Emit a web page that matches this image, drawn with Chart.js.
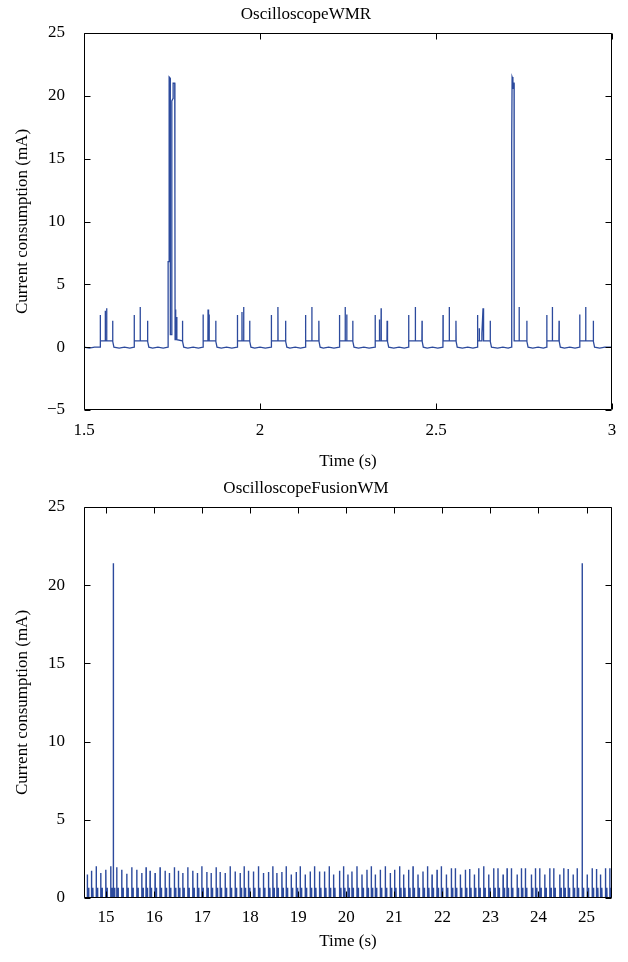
<!DOCTYPE html>
<html>
<head>
<meta charset="utf-8">
<script src="https://cdn.jsdelivr.net/npm/chart.js@4.4.1/dist/chart.umd.min.js"></script>
<style>
  html, body { margin: 0; padding: 0; background: #fff; }
  .panel { position: absolute; left: 0; width: 628px; }
  #wmrPanel { top: 0; height: 480px; }
  #fusionPanel { top: 475px; height: 487px; }
</style>
</head>
<body>
<div class="panel" id="wmrPanel"><canvas id="wmrChart" width="628" height="480"></canvas></div>
<div class="panel" id="fusionPanel"><canvas id="fusionChart" width="628" height="487"></canvas></div>
<script>
// OscilloscopeWMR: current trace, one cycle per line
const wmrTime = [
    1.5000, 1.5150, 1.5300,
    1.5460, 1.5462, 1.5467, 1.5600, 1.5604, 1.5608, 1.5640, 1.5644, 1.5648, 1.5810, 1.5814, 1.5819, 1.5850,
    1.6000, 1.6150, 1.6300,
    1.6424, 1.6426, 1.6431, 1.6592, 1.6596, 1.6600, 1.6802, 1.6806, 1.6811, 1.6842,
    1.6950, 1.7100, 1.7250,
    1.7388, 1.7390, 1.7417, 1.7419, 1.7450, 1.7453, 1.7493, 1.7495, 1.7530, 1.7532, 1.7578, 1.7580, 1.7585, 1.7588, 1.7601, 1.7605, 1.7609, 1.7632, 1.7636, 1.7640, 1.7794, 1.7798, 1.7803, 1.7834,
    1.7950, 1.8100, 1.8250,
    1.8381, 1.8383, 1.8388, 1.8520, 1.8524, 1.8528, 1.8549, 1.8553, 1.8557, 1.8739, 1.8743, 1.8748, 1.8779,
    1.8900, 1.9050, 1.9200,
    1.9356, 1.9358, 1.9363, 1.9484, 1.9488, 1.9492, 1.9532, 1.9536, 1.9540, 1.9703, 1.9707, 1.9712, 1.9743,
    1.9850, 2.0000, 2.0150,
    2.0320, 2.0322, 2.0327, 2.0505, 2.0509, 2.0513, 2.0723, 2.0727, 2.0732, 2.0763,
    2.0850, 2.1000, 2.1150,
    2.1292, 2.1294, 2.1299, 2.1469, 2.1473, 2.1477, 2.1668, 2.1672, 2.1677, 2.1708,
    2.1800, 2.1950, 2.2100,
    2.2256, 2.2258, 2.2263, 2.2416, 2.2420, 2.2424, 2.2461, 2.2465, 2.2469, 2.2631, 2.2635, 2.2640, 2.2671,
    2.2800, 2.2950, 2.3100,
    2.3269, 2.3271, 2.3276, 2.3389, 2.3393, 2.3397, 2.3437, 2.3441, 2.3445, 2.3607, 2.3611, 2.3620, 2.3625, 2.3656,
    2.3800, 2.3950, 2.4100,
    2.4221, 2.4223, 2.4228, 2.4409, 2.4413, 2.4417, 2.4599, 2.4603, 2.4608, 2.4639,
    2.4750, 2.4900, 2.5050,
    2.5197, 2.5199, 2.5204, 2.5373, 2.5377, 2.5381, 2.5563, 2.5567, 2.5572, 2.5603,
    2.5750, 2.5900, 2.6050,
    2.6178, 2.6180, 2.6185, 2.6225, 2.6229, 2.6233, 2.6300, 2.6304, 2.6336, 2.6340, 2.6351, 2.6355, 2.6359, 2.6536, 2.6540, 2.6545, 2.6576,
    2.6750, 2.6900, 2.7050,
    2.7140, 2.7143, 2.7159, 2.7162, 2.7185, 2.7188, 2.7205, 2.7208, 2.7218, 2.7221, 2.7358, 2.7362, 2.7366, 2.7576, 2.7580, 2.7585, 2.7616,
    2.7750, 2.7900, 2.8050,
    2.8145, 2.8147, 2.8152, 2.8302, 2.8306, 2.8310, 2.8492, 2.8496, 2.8501, 2.8532,
    2.8650, 2.8800, 2.8950,
    2.9081, 2.9083, 2.9088, 2.9249, 2.9253, 2.9257, 2.9465, 2.9469, 2.9474, 2.9505,
    2.9650, 2.9800, 3.0000
];
const wmrCurrent = [
    0.0, -0.08, 0.0,
    0.0, 2.55, 0.5, 0.5, 2.9, 0.5, 0.5, 3.1, 0.5, 0.5, 2.1, 0.45, 0.0,
    -0.08, 0.0, -0.08,
    0.0, 2.55, 0.5, 0.5, 3.2, 0.5, 0.5, 2.1, 0.45, 0.0,
    -0.08, 0.0, -0.08,
    0.0, 6.8, 6.8, 21.5, 21.4, 1.0, 1.0, 19.6, 19.8, 21.0, 21.0, 12.3, 12.2, 0.6, 0.6, 3.0, 0.6, 0.6, 2.4, 0.6, 0.5, 2.1, 0.45, 0.0,
    -0.08, 0.0, -0.08,
    0.0, 2.6, 0.5, 0.5, 3.0, 0.5, 0.5, 2.6, 0.5, 0.5, 2.1, 0.45, 0.0,
    -0.08, 0.0, -0.08,
    0.0, 2.55, 0.5, 0.5, 2.8, 0.5, 0.5, 3.2, 0.5, 0.5, 2.1, 0.45, 0.0,
    -0.08, 0.0, -0.08,
    0.0, 2.55, 0.5, 0.5, 3.2, 0.5, 0.5, 2.1, 0.45, 0.0,
    -0.08, 0.0, -0.08,
    0.0, 2.55, 0.5, 0.5, 3.2, 0.5, 0.5, 2.1, 0.45, 0.0,
    -0.08, 0.0, -0.08,
    0.0, 2.55, 0.5, 0.5, 3.2, 0.5, 0.5, 2.6, 0.5, 0.5, 2.1, 0.45, 0.0,
    -0.08, 0.0, -0.08,
    0.0, 2.55, 0.5, 0.5, 2.2, 0.5, 0.5, 3.1, 0.5, 0.5, 2.1, 1.2, 0.45, 0.0,
    -0.08, 0.0, -0.08,
    0.0, 2.55, 0.5, 0.5, 3.2, 0.5, 0.5, 2.1, 0.45, 0.0,
    -0.08, 0.0, -0.08,
    0.0, 2.55, 0.5, 0.5, 3.2, 0.5, 0.5, 2.1, 0.45, 0.0,
    -0.08, 0.0, -0.08,
    0.0, 2.55, 0.5, 0.5, 1.5, 0.5, 0.5, 1.1, 3.1, 0.5, 0.5, 2.7, 0.5, 0.5, 2.1, 0.45, 0.0,
    -0.08, 0.0, -0.08,
    0.0, 16.0, 16.2, 21.5, 21.3, 20.6, 20.8, 21.0, 21.0, 0.5, 0.5, 3.2, 0.5, 0.5, 2.1, 0.45, 0.0,
    -0.08, 0.0, -0.08,
    0.0, 2.55, 0.5, 0.5, 3.2, 0.5, 0.5, 2.1, 0.45, 0.0,
    -0.08, 0.0, -0.08,
    0.0, 2.6, 0.5, 0.5, 3.2, 0.5, 0.5, 2.1, 0.45, 0.0,
    -0.08, 0.0, 0.0
];
const wmrTimeRange = [1.5, 3];
const wmrCurrentRange = [-5, 25];
const wmrTimeTicks = [1.5, 2, 2.5, 3];
const wmrCurrentTicks = [-5, 0, 5, 10, 15, 20, 25];

// OscilloscopeFusionWM: one pulse every ~0.1 s, peak of each pulse
const fusionPulseTime = [
    14.609, 14.696, 14.794, 14.888, 14.994, 15.096, 15.150, 15.221, 15.325, 15.430,
    15.534, 15.638, 15.742, 15.832, 15.915, 16.019, 16.123, 16.228, 16.317, 16.421,
    16.505, 16.596, 16.700, 16.805, 16.900, 16.992, 17.096, 17.186, 17.290, 17.373,
    17.478, 17.582, 17.686, 17.790, 17.873, 17.963, 18.067, 18.171, 18.275, 18.380,
    18.471, 18.555, 18.659, 18.748, 18.853, 18.957, 19.040, 19.144, 19.248, 19.338,
    19.442, 19.546, 19.644, 19.734, 19.859, 19.942, 20.034, 20.117, 20.222, 20.326,
    20.430, 20.519, 20.603, 20.707, 20.811, 20.915, 21.005, 21.109, 21.192, 21.296,
    21.388, 21.492, 21.596, 21.690, 21.784, 21.888, 21.977, 22.082, 22.186, 22.269,
    22.373, 22.478, 22.567, 22.665, 22.755, 22.859, 22.963, 23.067, 23.157, 23.263,
    23.346, 23.436, 23.555, 23.644, 23.727, 23.852, 23.936, 24.025, 24.130, 24.234,
    24.317, 24.442, 24.525, 24.617, 24.721, 24.805, 24.909, 25.013, 25.117, 25.207,
    25.290, 25.394, 25.484
];
const fusionPulsePeak = [
    1.50, 1.75, 2.03, 1.60, 1.80, 2.03, 21.4, 1.97, 1.81, 1.55,
    1.97, 1.81, 1.60, 1.97, 1.75, 1.60, 1.97, 1.75, 1.60, 1.97,
    1.75, 1.60, 1.97, 1.75, 1.60, 2.03, 1.66, 1.60, 1.97, 1.66,
    1.60, 2.03, 1.70, 1.60, 2.03, 1.75, 1.70, 2.03, 1.60, 1.66,
    2.03, 1.60, 1.66, 2.03, 1.50, 1.66, 2.03, 1.50, 1.70, 2.03,
    1.70, 1.70, 2.03, 1.50, 1.75, 2.03, 1.50, 1.70, 2.03, 1.50,
    1.81, 2.03, 1.50, 1.81, 2.03, 1.60, 1.81, 2.03, 1.50, 1.81,
    2.03, 1.50, 1.70, 2.03, 1.50, 1.81, 2.03, 1.50, 1.90, 1.90,
    1.50, 1.81, 1.85, 1.50, 1.90, 2.03, 1.50, 1.90, 1.90, 1.50,
    1.90, 1.90, 1.50, 1.90, 1.90, 1.50, 1.90, 1.90, 1.50, 1.90,
    1.90, 1.50, 1.90, 1.85, 1.50, 1.90, 21.4, 1.50, 1.90, 1.85,
    1.50, 1.90, 1.90
];
const fusionTailCurrent = 0.65;   // small bump right after each pulse
const fusionTimeRange = [14.54, 25.53];
const fusionCurrentRange = [0, 25];
const fusionTimeTicks = [15, 16, 17, 18, 19, 20, 21, 22, 23, 24, 25];
const fusionCurrentTicks = [0, 5, 10, 15, 20, 25];

const traceColor = '#2c4a9d';
const serif = "'Liberation Serif', 'DejaVu Serif', serif";
const textFont = { family: serif, size: 17, weight: 'normal' };

function tickText(v) {
    return v < 0 ? '\u2212' + Math.abs(v) : String(v);
}

// build the point lists for the line datasets
const wmrPoints = [];
for (let i = 0; i < Math.min(wmrTime.length, wmrCurrent.length); i++) {
    wmrPoints.push({ x: wmrTime[i], y: wmrCurrent[i] });
}

const fusionPoints = [{ x: fusionTimeRange[0], y: 0 }];
for (let i = 0; i < Math.min(fusionPulseTime.length, fusionPulsePeak.length); i++) {
    const t = fusionPulseTime[i];
    fusionPoints.push(
        { x: t - 0.002, y: 0 },
        { x: t, y: fusionPulsePeak[i] },
        { x: t + 0.004, y: 0 },
        { x: t + 0.026, y: 0 },
        { x: t + 0.028, y: fusionTailCurrent },
        { x: t + 0.032, y: 0 }
    );
}
fusionPoints.push({ x: fusionTimeRange[1], y: 0 });

// box frame with inward ticks on all four sides
const boxTicks = {
    id: 'boxTicks',
    afterDraw(chart) {
        const { ctx, chartArea: a, scales: { x, y } } = chart;
        const len = 6;
        const l = Math.round(a.left) + 0.5, r = Math.round(a.right) - 0.5;
        const t = Math.round(a.top) + 0.5, b = Math.round(a.bottom) - 0.5;
        ctx.save();
        ctx.strokeStyle = '#000';
        ctx.lineWidth = 1;
        ctx.beginPath();
        x.ticks.forEach(tk => {
            const px = Math.round(x.getPixelForValue(tk.value)) + 0.5;
            ctx.moveTo(px, b); ctx.lineTo(px, b - len);
            ctx.moveTo(px, t); ctx.lineTo(px, t + len);
        });
        y.ticks.forEach(tk => {
            const py = Math.round(y.getPixelForValue(tk.value)) + 0.5;
            ctx.moveTo(l, py); ctx.lineTo(l + len, py);
            ctx.moveTo(r, py); ctx.lineTo(r - len, py);
        });
        ctx.rect(l, t, r - l, b - t);
        ctx.stroke();
        ctx.restore();
    }
};

function scopeChart(id, title, points, xRange, yRange, xTicks, yTicks, fit) {
    return new Chart(document.getElementById(id), {
        type: 'line',
        data: {
            datasets: [{
                data: points,
                borderColor: traceColor,
                borderWidth: fit.lineWidth,
                pointRadius: 0,
                tension: 0,
                fill: false
            }]
        },
        options: {
            responsive: false,
            animation: false,
            parsing: false,
            normalized: true,
            layout: { padding: { left: 0, right: 16, top: 0, bottom: 0 } },
            plugins: {
                legend: { display: false },
                tooltip: { enabled: false },
                title: {
                    display: true,
                    text: title,
                    color: '#000',
                    font: textFont,
                    padding: { top: fit.titleTop, bottom: fit.titleBottom }
                }
            },
            scales: {
                x: {
                    type: 'linear',
                    min: xRange[0],
                    max: xRange[1],
                    afterBuildTicks: s => { s.ticks = xTicks.map(v => ({ value: v })); },
                    afterFit: s => { s.height = fit.xHeight; },
                    grid: { display: false, drawTicks: false },
                    border: { display: false },
                    ticks: { padding: fit.xPad, color: '#000', font: textFont, maxRotation: 0, autoSkip: false, callback: tickText },
                    title: { display: true, text: 'Time (s)', color: '#000', font: textFont, padding: { top: 0, bottom: fit.xTitlePad } }
                },
                y: {
                    type: 'linear',
                    min: yRange[0],
                    max: yRange[1],
                    afterBuildTicks: s => { s.ticks = yTicks.map(v => ({ value: v })); },
                    afterFit: s => { s.width = 84; },
                    grid: { display: false, drawTicks: false },
                    border: { display: false },
                    ticks: { padding: 19, color: '#000', font: textFont, autoSkip: false, callback: tickText },
                    title: { display: true, text: 'Current consumption (mA)', color: '#000', font: textFont, padding: { top: 12, bottom: 0 } }
                }
            }
        },
        plugins: [boxTicks]
    });
}

scopeChart('wmrChart', 'OscilloscopeWMR', wmrPoints, wmrTimeRange, wmrCurrentRange,
    wmrTimeTicks, wmrCurrentTicks,
    { lineWidth: 1.3, titleTop: 4, titleBottom: 8.6, xHeight: 70, xPad: 10, xTitlePad: 8.5 });

scopeChart('fusionChart', 'OscilloscopeFusionWM', fusionPoints, fusionTimeRange, fusionCurrentRange,
    fusionTimeTicks, fusionCurrentTicks,
    { lineWidth: 1.4, titleTop: 3, titleBottom: 8.6, xHeight: 64, xPad: 9, xTitlePad: 9.8 });
</script>
</body>
</html>
